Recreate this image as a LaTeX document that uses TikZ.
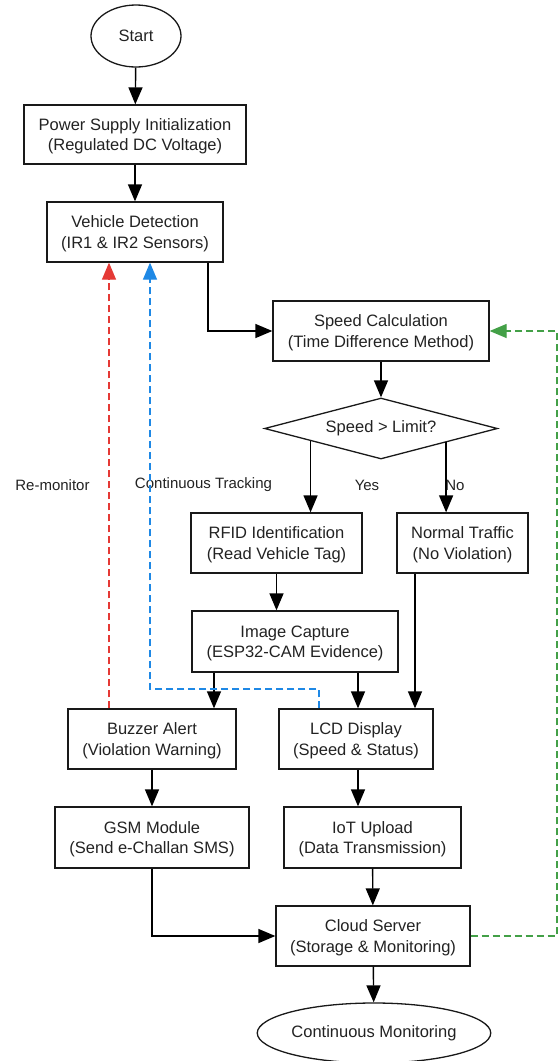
\documentclass[tikz,border=0pt]{standalone}
\usepackage{fontspec}
\setmainfont{Liberation Sans}
\usetikzlibrary{shapes.geometric,arrows.meta}
\definecolor{txtc}{HTML}{222222}
\definecolor{redc}{HTML}{E53935}
\definecolor{bluec}{HTML}{1E88E5}
\definecolor{greenc}{HTML}{43A047}
\tikzset{
  box/.style={draw=black!90, line width=1.3pt, rectangle, inner sep=0pt, align=center, text=txtc, text depth=0pt},
  oval/.style={draw=black!90, line width=1.3pt, ellipse, inner sep=0pt, align=center, text=txtc},
  decis/.style={draw=black!90, line width=1.3pt, diamond, aspect=3.8, inner sep=0pt, align=center, text=txtc},
  arr/.style={line width=1.4pt, black, -{Triangle[length=17pt,width=14pt]}},
  darr/.style={line width=1.3pt, dash pattern=on 7pt off 4pt, -{Triangle[length=17pt,width=14pt]}},
  lbl/.style={text=txtc, inner sep=0pt, font=\fontsize{15}{18}\selectfont}
}
\begin{document}
\begin{tikzpicture}[x=1pt,y=-1pt,font=\fontsize{16.5}{20.5}\selectfont]
\useasboundingbox (0,0) rectangle (558,1061);
\node[oval, minimum width=90pt, minimum height=62pt] (start) at (136,36) {Start};
\node[box, minimum width=222pt, minimum height=59pt] (power) at (135,134.5) {Power Supply Initialization\\(Regulated DC Voltage)};
\node[box, minimum width=176pt, minimum height=60pt] (vehicle) at (135,232) {Vehicle Detection\\(IR1 \& IR2 Sensors)};
\node[box, minimum width=216pt, minimum height=60pt] (speed) at (381,331) {Speed Calculation\\(Time Difference Method)};
\node[decis, minimum width=233pt, minimum height=61pt] (dec) at (381,428.5) {Speed > Limit?};
\node[box, minimum width=171pt, minimum height=60pt] (rfid) at (276.5,543) {RFID Identification\\(Read Vehicle Tag)};
\node[box, minimum width=131pt, minimum height=60pt] (normal) at (462.5,543) {Normal Traffic\\(No Violation)};
\node[box, minimum width=206pt, minimum height=61pt] (image) at (295,641.5) {Image Capture\\(ESP32-CAM Evidence)};
\node[box, minimum width=168pt, minimum height=60pt] (buzzer) at (152,739) {Buzzer Alert\\(Violation Warning)};
\node[box, minimum width=154pt, minimum height=60pt] (lcd) at (356,739) {LCD Display\\(Speed \& Status)};
\node[box, minimum width=194pt, minimum height=61pt] (gsm) at (152,837.5) {GSM Module\\(Send e-Challan SMS)};
\node[box, minimum width=177pt, minimum height=61pt] (iot) at (372.5,837.5) {IoT Upload\\(Data Transmission)};
\node[box, minimum width=194pt, minimum height=60pt] (cloud) at (373,936) {Cloud Server\\(Storage \& Monitoring)};
\node[oval, minimum width=229pt, minimum height=60pt] (cm) at (374,1033) {Continuous Monitoring};

\node[lbl] (lre) at (52.5,485) {Re-monitor};
\node[lbl] (lct) at (203.5,485) {Continuous Tracking};
\node[lbl] (lyes) at (367,485) {Yes};
\node[lbl] (lno) at (455,485) {No};

\coordinate (bcorner) at (150,689);
\coordinate (gx) at (557,0);

\draw[arr] (start) -- (power);
\draw[arr] (power) -- (vehicle);
\draw[arr] ([xshift=73pt]vehicle.south) |- (speed.west);
\draw[arr] (speed) -- (dec);
\draw[arr] (dec.190.6) -- (dec.190.6 |- rfid.north);
\draw[arr] (dec.348.7) -- (dec.348.7 |- normal.north);
\draw[arr] (rfid.south) -- (rfid.south |- image.north);
\draw[arr] ([xshift=-81pt]image.south) -- ([xshift=-81pt]image.south |- buzzer.north);
\draw[arr] ([xshift=63pt]image.south) -- ([xshift=63pt]image.south |- lcd.north);
\draw[arr] ([xshift=-47.5pt]normal.south) -- ([xshift=-47.5pt]normal.south |- lcd.north);
\draw[arr] (buzzer) -- (gsm);
\draw[arr] ([xshift=2pt]lcd.south) -- ([xshift=2pt]lcd.south |- iot.north);
\draw[arr] (iot) -- (cloud);
\draw[arr] (gsm.south) |- (cloud.west);
\draw[arr] (cloud) -- (cm);
\draw[darr, redc] ([xshift=-43pt]buzzer.north) -- ([xshift=-43pt]buzzer.north |- vehicle.south);
\draw[darr, bluec] ([xshift=-37pt]lcd.north) |- (bcorner) -- (bcorner |- vehicle.south);
\draw[darr, greenc] (cloud.east) -- (cloud.east -| gx) |- (speed.east);
\end{tikzpicture}
\end{document}
